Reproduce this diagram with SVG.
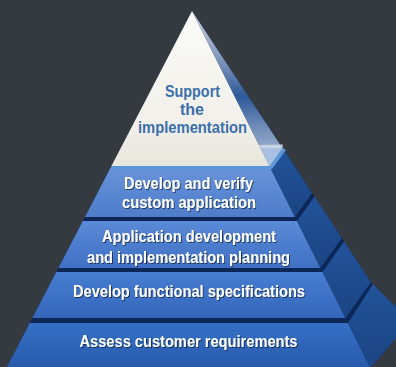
<svg xmlns="http://www.w3.org/2000/svg" width="396" height="367" viewBox="0 0 396 367">
<defs>
<style>
.bg{fill:#353a41}
.navy{fill:#0c2757}
.lbl{font-family:"Liberation Sans",Arial,sans-serif;font-weight:bold;font-size:16px;text-anchor:middle}
.wt{fill:#ffffff;filter:url(#sh)}
.bt{fill:#3b6fab}
.side{fill:url(#gSide)}
</style>
<filter id="sh" x="-10%" y="-30%" width="120%" height="160%">
<feDropShadow dx="1" dy="1" stdDeviation="0.6" flood-color="#000" flood-opacity="0.55"/>
</filter>
<linearGradient id="gTop" x1="0" y1="0" x2="0" y2="1">
<stop offset="0" stop-color="#fbfbf8"/>
<stop offset="0.7" stop-color="#f1f0ea"/>
<stop offset="1" stop-color="#e8e6dc"/>
</linearGradient>
<linearGradient id="gTopSide" x1="0" y1="0" x2="0" y2="1">
<stop offset="0" stop-color="#dfe3ea"/>
<stop offset="0.35" stop-color="#7f97c0"/>
<stop offset="0.55" stop-color="#2f5d9f"/>
<stop offset="0.75" stop-color="#7b96c2"/>
<stop offset="1" stop-color="#c3cfe2"/>
</linearGradient>
<linearGradient id="gT1" x1="0" y1="0" x2="0" y2="1">
<stop offset="0" stop-color="#6893da"/>
<stop offset="1" stop-color="#4d7cc9"/>
</linearGradient>
<linearGradient id="gT2" x1="0" y1="0" x2="0" y2="1">
<stop offset="0" stop-color="#5a8ad7"/>
<stop offset="1" stop-color="#3f70c3"/>
</linearGradient>
<linearGradient id="gT3" x1="0" y1="0" x2="0" y2="1">
<stop offset="0" stop-color="#477ed2"/>
<stop offset="1" stop-color="#3466bb"/>
</linearGradient>
<linearGradient id="gT4" x1="0" y1="0" x2="0" y2="1">
<stop offset="0" stop-color="#3570c6"/>
<stop offset="1" stop-color="#285aab"/>
</linearGradient>
<linearGradient id="gSide" x1="0" y1="0" x2="0" y2="1">
<stop offset="0" stop-color="#22539a"/>
<stop offset="1" stop-color="#1a4483"/>
</linearGradient>
</defs>
<rect class="bg" x="0" y="0" width="396" height="367"/>

<!-- dark underlays (separators) -->
<polygon class="navy" points="192,11 6.4,368 370.5,368"/>
<polygon class="navy" points="192,11 371,282 410,322 370.5,368"/>

<g id="tier4">
<polygon fill="url(#gT4)" points="29.8,323 348,323 370.5,368 6.4,368"/>
<polygon class="side" points="348,323 373,284 410,322 370.5,368"/>
<text class="lbl wt" x="188.5" y="347" textLength="218" lengthAdjust="spacingAndGlyphs">Assess customer requirements</text>
</g>

<g id="tier3">
<polygon fill="url(#gT3)" points="56.3,272 322.5,272 345.5,318 32.4,318"/>
<polygon class="side" points="322.5,272 344.2,241.6 371,282.3 345.5,318"/>
<text class="lbl wt" x="189" y="297" textLength="232" lengthAdjust="spacingAndGlyphs">Develop functional specifications</text>
</g>

<g id="tier2">
<polygon fill="url(#gT2)" points="82.8,221 297,221 320.5,268 58.4,268"/>
<polygon class="side" points="297,221 314.5,196.5 341.9,238 320.5,268"/>
<text class="lbl wt" x="189" y="242" textLength="174" lengthAdjust="spacingAndGlyphs">Application development</text>
<text class="lbl wt" x="188.5" y="263" textLength="203" lengthAdjust="spacingAndGlyphs">and implementation planning</text>
</g>

<g id="tier1">
<polygon fill="url(#gT1)" points="110.4,168 270.5,168 295,217 84.9,217"/>
<polygon class="side" points="270.5,168 283.6,149.7 312.1,193 295,217"/>
<polygon fill="#5b96d8" points="111.4,165.5 269.5,165.5 282.4,147.5 286,150 272,169 110.4,169"/>
<text class="lbl wt" x="188.5" y="189" textLength="129" lengthAdjust="spacingAndGlyphs">Develop and verify</text>
<text class="lbl wt" x="189" y="208" textLength="134" lengthAdjust="spacingAndGlyphs">custom application</text>
</g>

<g id="top">
<polygon fill="url(#gTop)" points="192,11 111.4,166 269.5,166"/>
<polygon fill="url(#gTopSide)" opacity="0.92" points="192,11 269.5,166 282.4,147.9"/>
<polygon fill="#a9c2e4" opacity="0.85" points="260.5,148.5 282.4,147.9 269.5,166"/>
<polygon fill="#d5deeb" opacity="0.8" points="259,145 283,144.5 282.4,148 260.8,148.5"/>
<text class="lbl bt" x="192.5" y="97" textLength="55" lengthAdjust="spacingAndGlyphs">Support</text>
<text class="lbl bt" x="192" y="115">the</text>
<text class="lbl bt" x="192.5" y="133" textLength="109" lengthAdjust="spacingAndGlyphs">implementation</text>
</g>

<g id="connectors"/>
</svg>
